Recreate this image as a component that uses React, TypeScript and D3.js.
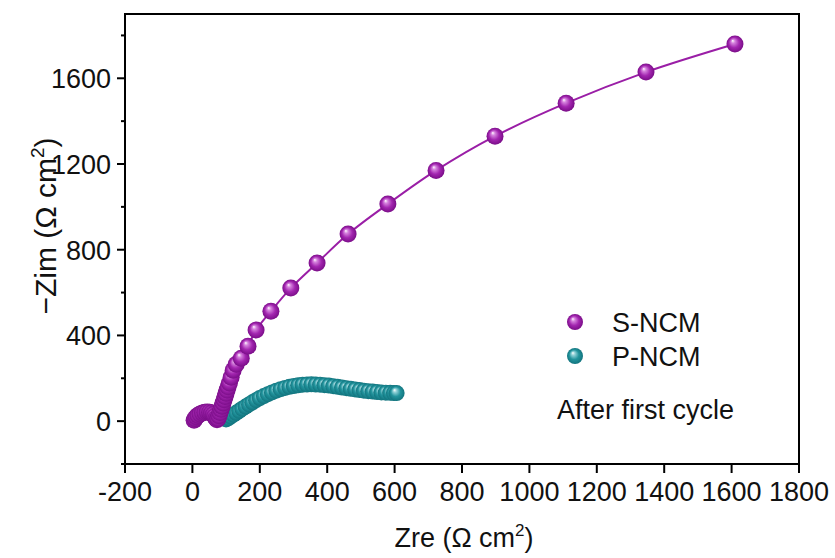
import React from "react";
import * as d3 from "d3";

const sNcmX = [5, 8, 12, 17, 23, 30, 37, 44, 51, 57, 62, 66, 70, 73, 76, 79, 82, 85, 88, 91, 94, 97, 100, 103, 106, 110, 115, 121, 130, 145, 165, 189, 233, 292, 370, 462, 580, 723, 898, 1109, 1346, 1610];
const sNcmY = [4, 12, 20, 27, 33, 38, 41, 43, 42, 38, 31, 22, 12, 6, 12, 25, 40, 55, 70, 85, 100, 115, 130, 145, 160, 178, 205, 238, 265, 294, 350, 425, 513, 621, 738, 873, 1013, 1170, 1330, 1484, 1629, 1760];

const pNcmX = [100, 107, 114, 122, 130, 139, 148, 158, 168, 178, 189, 200, 212, 224, 236, 249, 262, 275, 288, 301, 314, 327, 340, 353, 366, 379, 392, 405, 418, 431, 444, 457, 470, 483, 496, 509, 522, 535, 548, 561, 574, 587, 598, 606];
const pNcmY = [8, 14, 22, 30, 39, 48, 58, 68, 78, 88, 98, 108, 117, 126, 134, 142, 149, 155, 160, 164, 167, 170, 171, 172, 171, 170, 168, 166, 163, 160, 157, 154, 151, 148, 145, 142, 140, 138, 136, 134, 133, 132, 131, 131];

const xTicks = [-200, 0, 200, 400, 600, 800, 1000, 1200, 1400, 1600, 1800];
const yTicks = [0, 400, 800, 1200, 1600];
const yMinorTicks = [-200, 200, 600, 1000, 1400, 1800];

const W = 835;
const H = 558;
const L = 125, R = 799, T = 14, B = 464;

export default function App() {
  const x = d3.scaleLinear().domain([-200, 1800]).range([L, R]);
  const y = d3.scaleLinear().domain([-200, 1900]).range([B, T]);
  const sPts = sNcmX.map((v, i) => [v, sNcmY[i]] as [number, number]);
  const pPts = pNcmX.map((v, i) => [v, pNcmY[i]] as [number, number]);
  const line = d3.line<[number, number]>().x(d => x(d[0])).y(d => y(d[1])).curve(d3.curveCatmullRom);
  const font = "'Liberation Sans', Arial, sans-serif";
  const purple = "#9a1ea6";
  const teal = "#1a8c95";
  const fs = 27;
  return (
    <svg width={W} height={H} style={{ position: "absolute", left: 0, top: 0, background: "#fff" }} fontFamily={font}>
      <defs>
        <radialGradient id="gp" cx="0.5" cy="0.5" r="0.5" fx="0.36" fy="0.3">
          <stop offset="0" stopColor="#ffffff" />
          <stop offset="0.22" stopColor="#d684de" />
          <stop offset="0.6" stopColor="#a326b0" />
          <stop offset="1" stopColor="#7a0d88" />
        </radialGradient>
        <radialGradient id="gt" cx="0.5" cy="0.5" r="0.5" fx="0.36" fy="0.3">
          <stop offset="0" stopColor="#ffffff" />
          <stop offset="0.22" stopColor="#92d2d8" />
          <stop offset="0.6" stopColor="#22949d" />
          <stop offset="1" stopColor="#12747e" />
        </radialGradient>
      </defs>
      <rect x={0} y={0} width={W} height={H} fill="#fff" />
      {/* P-NCM */}
      <path d={line(pPts) || ""} fill="none" stroke={teal} strokeWidth={1.5} />
      {pPts.map((d, i) => (
        <circle key={"p" + i} cx={x(d[0])} cy={y(d[1])} r={8} fill="url(#gt)" />
      ))}
      {/* S-NCM */}
      <path d={line(sPts) || ""} fill="none" stroke={purple} strokeWidth={2} />
      {sPts.map((d, i) => (
        <circle key={"s" + i} cx={x(d[0])} cy={y(d[1])} r={8.5} fill="url(#gp)" />
      ))}
      {/* frame */}
      <rect x={L} y={T} width={R - L} height={B - T} fill="none" stroke="#000" strokeWidth={2} />
      {/* x ticks */}
      {xTicks.map(t => (
        <g key={"xt" + t}>
          <line x1={x(t)} x2={x(t)} y1={B} y2={B + 9} stroke="#000" strokeWidth={2} />
          <text x={x(t)} y={501} fontSize={fs} textAnchor="middle" fill="#111">{t}</text>
        </g>
      ))}
      {/* y ticks */}
      {yTicks.map(t => (
        <g key={"yt" + t}>
          <line x1={L - 8} x2={L} y1={y(t)} y2={y(t)} stroke="#000" strokeWidth={2} />
          <text x={111} y={y(t) + 10} fontSize={fs} textAnchor="end" fill="#111">{t}</text>
        </g>
      ))}
      {yMinorTicks.map(t => (
        <line key={"ym" + t} x1={L - 4} x2={L} y1={y(t)} y2={y(t)} stroke="#000" strokeWidth={2} />
      ))}
      {/* axis titles */}
      <text x={464} y={547} fontSize={fs} textAnchor="middle" fill="#111">
        Zre (Ω cm<tspan dy={-11} fontSize={17}>2</tspan><tspan dy={11}>)</tspan>
      </text>
      <text transform="translate(56,226) rotate(-90)" fontSize={30} textAnchor="middle" fill="#111">
        −Zim (Ω cm<tspan dy={-12} fontSize={19}>2</tspan><tspan dy={12}>)</tspan>
      </text>
      {/* legend */}
      <circle cx={575} cy={322} r={8} fill="url(#gp)" />
      <text x={612} y={332} fontSize={fs} fill="#111">S-NCM</text>
      <circle cx={575} cy={356} r={8} fill="url(#gt)" />
      <text x={612} y={366} fontSize={fs} fill="#111">P-NCM</text>
      <text x={557} y={419} fontSize={fs} fill="#111">After first cycle</text>
    </svg>
  );
}
